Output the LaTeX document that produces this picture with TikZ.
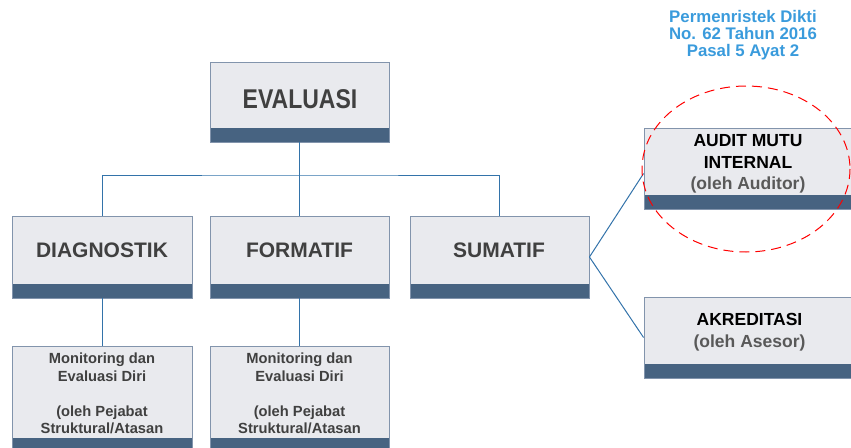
\documentclass[tikz,border=0pt]{standalone}
\usepackage{fontspec}
\setmainfont{Liberation Sans}
\definecolor{boxfill}{HTML}{E9EAEE}
\definecolor{bandcol}{HTML}{476381}
\definecolor{boxline}{HTML}{8294AC}
\definecolor{conn}{HTML}{3373AA}
\definecolor{txtgray}{HTML}{404040}
\definecolor{subgray}{HTML}{595959}
\definecolor{noteblue}{HTML}{3A9BDC}
\tikzset{
  orgbox/.style={draw=boxline, line width=0.9pt, fill=boxfill, inner sep=0pt,
    path picture={\fill[bandcol] (path picture bounding box.south west) rectangle ([yshift=14pt]path picture bounding box.south east);}},
  conline/.style={draw=conn, line width=1pt},
  bigtxt/.style={inner sep=0pt, text=txtgray, font=\bfseries\fontsize{21}{25}\selectfont},
  smalltxt/.style={inner sep=0pt, text=txtgray, align=center, font=\bfseries\fontsize{14.7}{17.5}\selectfont},
  midtxt/.style={inner sep=0pt, align=center, font=\bfseries\fontsize{17.5}{21.5}\selectfont},
  notetxt/.style={inner sep=0pt, text=noteblue, align=center, font=\bfseries\fontsize{16.8}{17}\selectfont},
}
\begin{document}
\begin{tikzpicture}[x=1pt,y=-1pt]
\useasboundingbox (0,0) rectangle (851,447);
\clip (0,0) rectangle (851,447);
% boxes
\node[orgbox, minimum width=179pt, minimum height=80pt] (eval) at (299.5,102) {};
\node[orgbox, minimum width=180pt, minimum height=82pt] (diag) at (102,257) {};
\node[orgbox, minimum width=179pt, minimum height=82pt] (form) at (299.5,257) {};
\node[orgbox, minimum width=179pt, minimum height=82pt] (sum) at (499.5,257) {};
\node[orgbox, minimum width=180pt, minimum height=106pt] (mon1) at (102,399) {};
\node[orgbox, minimum width=179pt, minimum height=106pt] (mon2) at (299.5,399) {};
\node[orgbox, minimum width=212pt, minimum height=81pt] (audit) at (750,168.5) {};
\node[orgbox, minimum width=212pt, minimum height=81pt] (akred) at (750,337.5) {};
% texts
\node[bigtxt, anchor=base, font=\bfseries\fontsize{23}{27}\selectfont] (evalT) at (300,108) {\scalebox{1}[1.18]{EVALUASI}};
\node[bigtxt, anchor=base] (diagT) at (102,257) {DIAGNOSTIK};
\node[bigtxt, anchor=base] (formT) at (299.5,257) {FORMATIF};
\node[bigtxt, anchor=base] (sumT) at (499,257) {SUMATIF};
\node[smalltxt] (mon1T) at (102,393.5) {Monitoring dan\\Evaluasi Diri\\[17.5pt](oleh Pejabat\\Struktural/Atasan};
\node[smalltxt] (mon2T) at (299.5,393.5) {Monitoring dan\\Evaluasi Diri\\[17.5pt](oleh Pejabat\\Struktural/Atasan};
\node[midtxt] (auditT) at (748,164) {AUDIT MUTU\\INTERNAL\\\textcolor{subgray}{(oleh Auditor)}};
\node[midtxt] (akredT) at (749.5,332) {AKREDITASI\\\textcolor{subgray}{(oleh Asesor)}};
\node[notetxt] (note) at (743,35) {Permenristek Dikti\\No. 62 Tahun 2016\\Pasal 5 Ayat 2};
% connectors
\coordinate (j) at (299.5,175);
\draw[conline] (eval.south) -- (j);
\draw[conline] (diag.north) |- (j) -| (sum.north);
\draw[conline] (j) -- (form.north);
\draw[conline] (diag.south) -- (mon1.north);
\draw[conline] (form.south) -- (mon2.north);
\coordinate (s) at (sum.east);
\draw[conline] (sum.east) -- ([yshift=-5pt]audit.west);
\draw[conline] (sum.east) -- (akred.west);
% ellipse
\draw[red, line width=1pt, dash pattern=on 10pt off 6pt] (746,169) ellipse [x radius=104, y radius=83];
\end{tikzpicture}
\end{document}
